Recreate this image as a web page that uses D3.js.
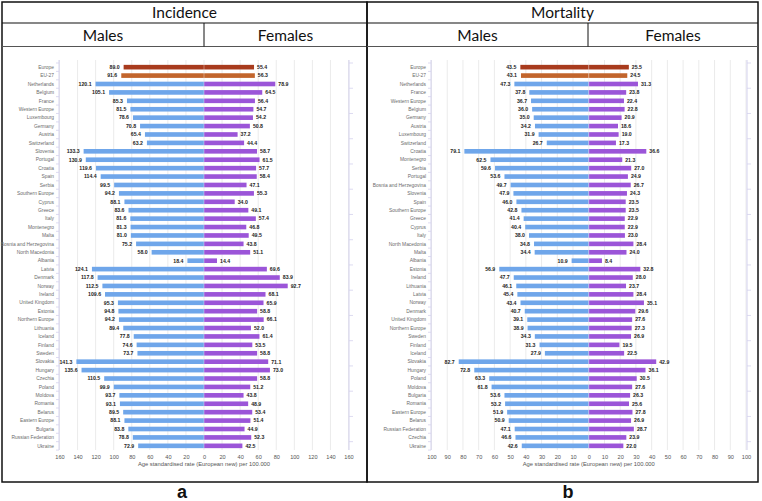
<!DOCTYPE html>
<html><head><meta charset="utf-8">
<script src="https://cdn.jsdelivr.net/npm/d3@7/dist/d3.min.js"></script>
<style>html,body{margin:0;padding:0;background:#fff;}svg{display:block;}</style>
</head><body>
<svg id="chart" width="762" height="501"></svg>
<script>
// ---------- DATA ----------
const incCountries = ["Europe","EU-27","Netherlands","Belgium","France","Western Europe","Luxembourg","Germany","Austria","Switzerland","Slovenia","Portugal","Croatia","Spain","Serbia","Southern Europe","Cyprus","Greece","Italy","Montenegro","Malta","Bosnia and Herzegovina","North Macedonia","Albania","Latvia","Denmark","Norway","Ireland","United Kingdom","Estonia","Northern Europe","Lithuania","Iceland","Finland","Sweden","Slovakia","Hungary","Czechia","Poland","Moldova","Romania","Belarus","Eastern Europe","Bulgaria","Russian Federation","Ukraine"];
const incMales = [89.0,91.6,120.1,105.1,85.3,81.5,78.6,70.8,65.4,63.2,133.3,130.9,119.6,114.4,99.5,94.2,88.1,83.6,81.6,81.3,81.0,75.2,58.0,18.4,124.1,117.8,112.5,109.6,95.3,94.8,94.2,89.4,77.8,74.6,73.7,141.3,135.6,110.5,99.9,93.7,93.1,89.5,88.1,83.8,78.8,72.9];
const incFemales = [55.4,56.3,78.9,64.5,56.4,54.7,54.2,50.8,37.2,44.4,58.7,61.5,57.7,58.4,47.1,55.3,34.0,49.1,57.4,46.8,49.5,43.8,51.1,14.4,69.6,83.9,92.7,68.1,65.9,58.8,66.1,52.0,61.4,53.5,58.8,71.1,73.0,58.8,51.2,43.8,48.9,53.4,51.4,44.9,52.3,42.5];
const incTicks = [-160,-140,-120,-100,-80,-60,-40,-20,0,20,40,60,80,100,120,140,160];

const morCountries = ["Europe","EU-27","Netherlands","France","Western Europe","Belgium","Germany","Austria","Luxembourg","Switzerland","Croatia","Montenegro","Serbia","Portugal","Bosnia and Herzegovina","Slovenia","Spain","Southern Europe","Greece","Cyprus","Italy","North Macedonia","Malta","Albania","Estonia","Ireland","Lithuania","Latvia","Norway","Denmark","United Kingdom","Northern Europe","Sweden","Finland","Iceland","Slovakia","Hungary","Poland","Moldova","Bulgaria","Romania","Eastern Europe","Belarus","Russian Federation","Czechia","Ukraine"];
const morMales = [43.5,43.1,47.3,37.8,36.7,36.0,35.0,34.2,31.9,26.7,79.1,62.5,59.6,53.6,49.7,47.9,46.0,42.8,41.4,40.4,38.0,34.8,34.4,10.9,56.9,47.7,46.1,45.4,43.4,40.7,39.1,38.9,34.3,31.3,27.9,82.7,72.8,63.3,61.8,53.6,53.2,51.9,50.9,47.1,46.6,42.6];
const morFemales = [25.5,24.5,31.3,23.8,22.4,22.8,20.9,18.6,19.0,17.3,36.6,21.3,27.0,24.9,26.7,24.3,23.5,23.5,22.9,22.9,23.0,28.4,24.0,8.4,32.8,28.0,23.7,28.4,35.1,29.6,27.6,27.3,26.9,19.5,22.5,42.9,36.1,30.5,27.6,26.3,25.6,27.8,26.9,28.7,23.9,22.0];
const morTicks = [-100,-90,-80,-70,-60,-50,-40,-30,-20,-10,0,10,20,30,40,50,60,70,80,90,100];

const panelTitles = ["Incidence","Mortality"];
const sexLabels = ["Males","Females"];
const panelLetters = ["a","b"];
const axisTitle = "Age standardised rate (European new) per 100.000";

// ---------- STYLE ----------
const C = {
  male:"#6fa6ea", female:"#9b55d8", europe:"#a83b1d", eu:"#c2652c",
  grid:"#ebebeb", axis:"#d4d2ee", label:"#6b6b6b", text:"#222"
};
const svg = d3.select("#chart");
const HEAD = "Lato, 'Open Sans', sans-serif";
const SMALL = "'Liberation Sans', Arial, sans-serif";

function panel(opts){
  const {x0, x1, mid, title, countries, males, females, ticks, dom, xr, axisX, axisRX, letterX} = opts;
  const g = svg.append("g");
  // frame & header
  g.append("rect").attr("x",x0).attr("y",2).attr("width",x1-x0).attr("height",480)
    .attr("fill","none").attr("stroke","#111").attr("stroke-width",1.5);
  g.append("line").attr("x1",x0).attr("x2",x1).attr("y1",23).attr("y2",23).attr("stroke","#111").attr("stroke-width",1.2);
  g.append("line").attr("x1",x0).attr("x2",x1).attr("y1",46.5).attr("y2",46.5).attr("stroke","#555").attr("stroke-width",1);
  g.append("line").attr("x1",mid).attr("x2",mid).attr("y1",23).attr("y2",46.5).attr("stroke","#111").attr("stroke-width",1);
  g.append("text").attr("x",(x0+x1)/2).attr("y",18).attr("text-anchor","middle")
    .attr("font-family",HEAD).attr("font-size",15.5).attr("fill","#111").text(title);
  g.append("text").attr("x",(x0+mid)/2).attr("y",41).attr("text-anchor","middle")
    .attr("font-family",HEAD).attr("font-size",15.5).attr("fill","#111").text(sexLabels[0]);
  g.append("text").attr("x",(mid+x1)/2).attr("y",41).attr("text-anchor","middle")
    .attr("font-family",HEAD).attr("font-size",15.5).attr("fill","#111").text(sexLabels[1]);
  g.append("text").attr("x",letterX).attr("y",498).attr("text-anchor","middle")
    .attr("font-family",SMALL).attr("font-weight","bold").attr("font-size",18).attr("fill","#111").text(opts.letter);

  const x = d3.scaleLinear().domain(dom).range(xr);
  const y = d3.scaleBand().domain(countries).range([63,450]).paddingInner(0.45).paddingOuter(0.22);
  const step = y.step();

  // gridlines
  g.selectAll(".grid").data(ticks).join("line")
    .attr("x1",d=>x(d)).attr("x2",d=>x(d)).attr("y1",60).attr("y2",450)
    .attr("stroke",C.grid).attr("stroke-width",1);

  // left axis line with ticks
  g.append("line").attr("x1",axisX).attr("x2",axisX).attr("y1",60).attr("y2",450).attr("stroke",C.axis).attr("stroke-width",1);
  g.selectAll(".lt").data(d3.range(countries.length+1)).join("line")
    .attr("x1",axisX-3).attr("x2",axisX).attr("y1",i=>63+i*step).attr("y2",i=>63+i*step)
    .attr("stroke",C.axis).attr("stroke-width",0.8);
  // right axis line
  g.append("line").attr("x1",axisRX).attr("x2",axisRX).attr("y1",60).attr("y2",450).attr("stroke",C.axis).attr("stroke-width",1);
  g.selectAll(".rt").data(d3.range(0,countries.length+1,3)).join("line")
    .attr("x1",axisRX).attr("x2",axisRX+4).attr("y1",i=>63+i*step).attr("y2",i=>63+i*step)
    .attr("stroke",C.axis).attr("stroke-width",0.8);

  const colM = (i)=> i===0?C.europe:(i===1?C.eu:C.male);
  const colF = (i)=> i===0?C.europe:(i===1?C.eu:C.female);

  // bars
  g.selectAll(".bm").data(males).join("rect")
    .attr("x",d=>x(-d)).attr("width",d=>x(0)-x(-d))
    .attr("y",(d,i)=>y(countries[i])).attr("height",y.bandwidth())
    .attr("fill",(d,i)=>colM(i));
  g.selectAll(".bf").data(females).join("rect")
    .attr("x",x(0)).attr("width",d=>x(d)-x(0))
    .attr("y",(d,i)=>y(countries[i])).attr("height",y.bandwidth())
    .attr("fill",(d,i)=>colF(i));
  // zero line over bars
  g.append("line").attr("x1",x(0)).attr("x2",x(0)).attr("y1",60).attr("y2",450)
    .attr("stroke","rgba(255,255,255,0.35)").attr("stroke-width",1);

  // country labels
  g.selectAll(".cl").data(countries).join("text")
    .attr("x",axisX-5).attr("y",d=>y(d)+y.bandwidth()/2).attr("dy","0.35em")
    .attr("text-anchor","end").attr("font-family",SMALL).attr("font-size",4.9).attr("fill",C.label).text(d=>d);
  // value labels
  g.selectAll(".vm").data(males).join("text")
    .attr("x",d=>x(-d)-4).attr("y",(d,i)=>y(countries[i])+y.bandwidth()/2).attr("dy","0.35em")
    .attr("text-anchor","end").attr("font-family",SMALL).attr("font-weight","bold").attr("font-size",5.2).attr("fill",C.text)
    .text(d=>d3.format(".1f")(d));
  g.selectAll(".vf").data(females).join("text")
    .attr("x",d=>x(d)+3).attr("y",(d,i)=>y(countries[i])+y.bandwidth()/2).attr("dy","0.35em")
    .attr("text-anchor","start").attr("font-family",SMALL).attr("font-weight","bold").attr("font-size",5.2).attr("fill",C.text)
    .text(d=>d3.format(".1f")(d));

  // x axis
  const ax = g.append("g").attr("transform","translate(0,450)")
    .call(d3.axisBottom(x).tickValues(ticks).tickSize(0).tickPadding(5).tickFormat(d=>Math.abs(d)));
  ax.select(".domain").remove();
  ax.selectAll("text").attr("font-family",SMALL).attr("font-size",5.6).attr("fill","#555");
  g.append("text").attr("x",x(0)).attr("y",466).attr("text-anchor","middle")
    .attr("font-family",SMALL).attr("font-size",5.8).attr("fill","#555").text(axisTitle);
}

panel({x0:2,x1:367,mid:204,title:panelTitles[0],countries:incCountries,males:incMales,females:incFemales,
  ticks:incTicks,dom:[-160,160],xr:[59.5,348.5],axisX:59,axisRX:349,letter:panelLetters[0],letterX:182});
panel({x0:367,x1:758,mid:588,title:panelTitles[1],countries:morCountries,males:morMales,females:morFemales,
  ticks:morTicks,dom:[-100,100],xr:[431.5,746],axisX:431,axisRX:747,letter:panelLetters[1],letterX:568});
</script>
</body></html>
